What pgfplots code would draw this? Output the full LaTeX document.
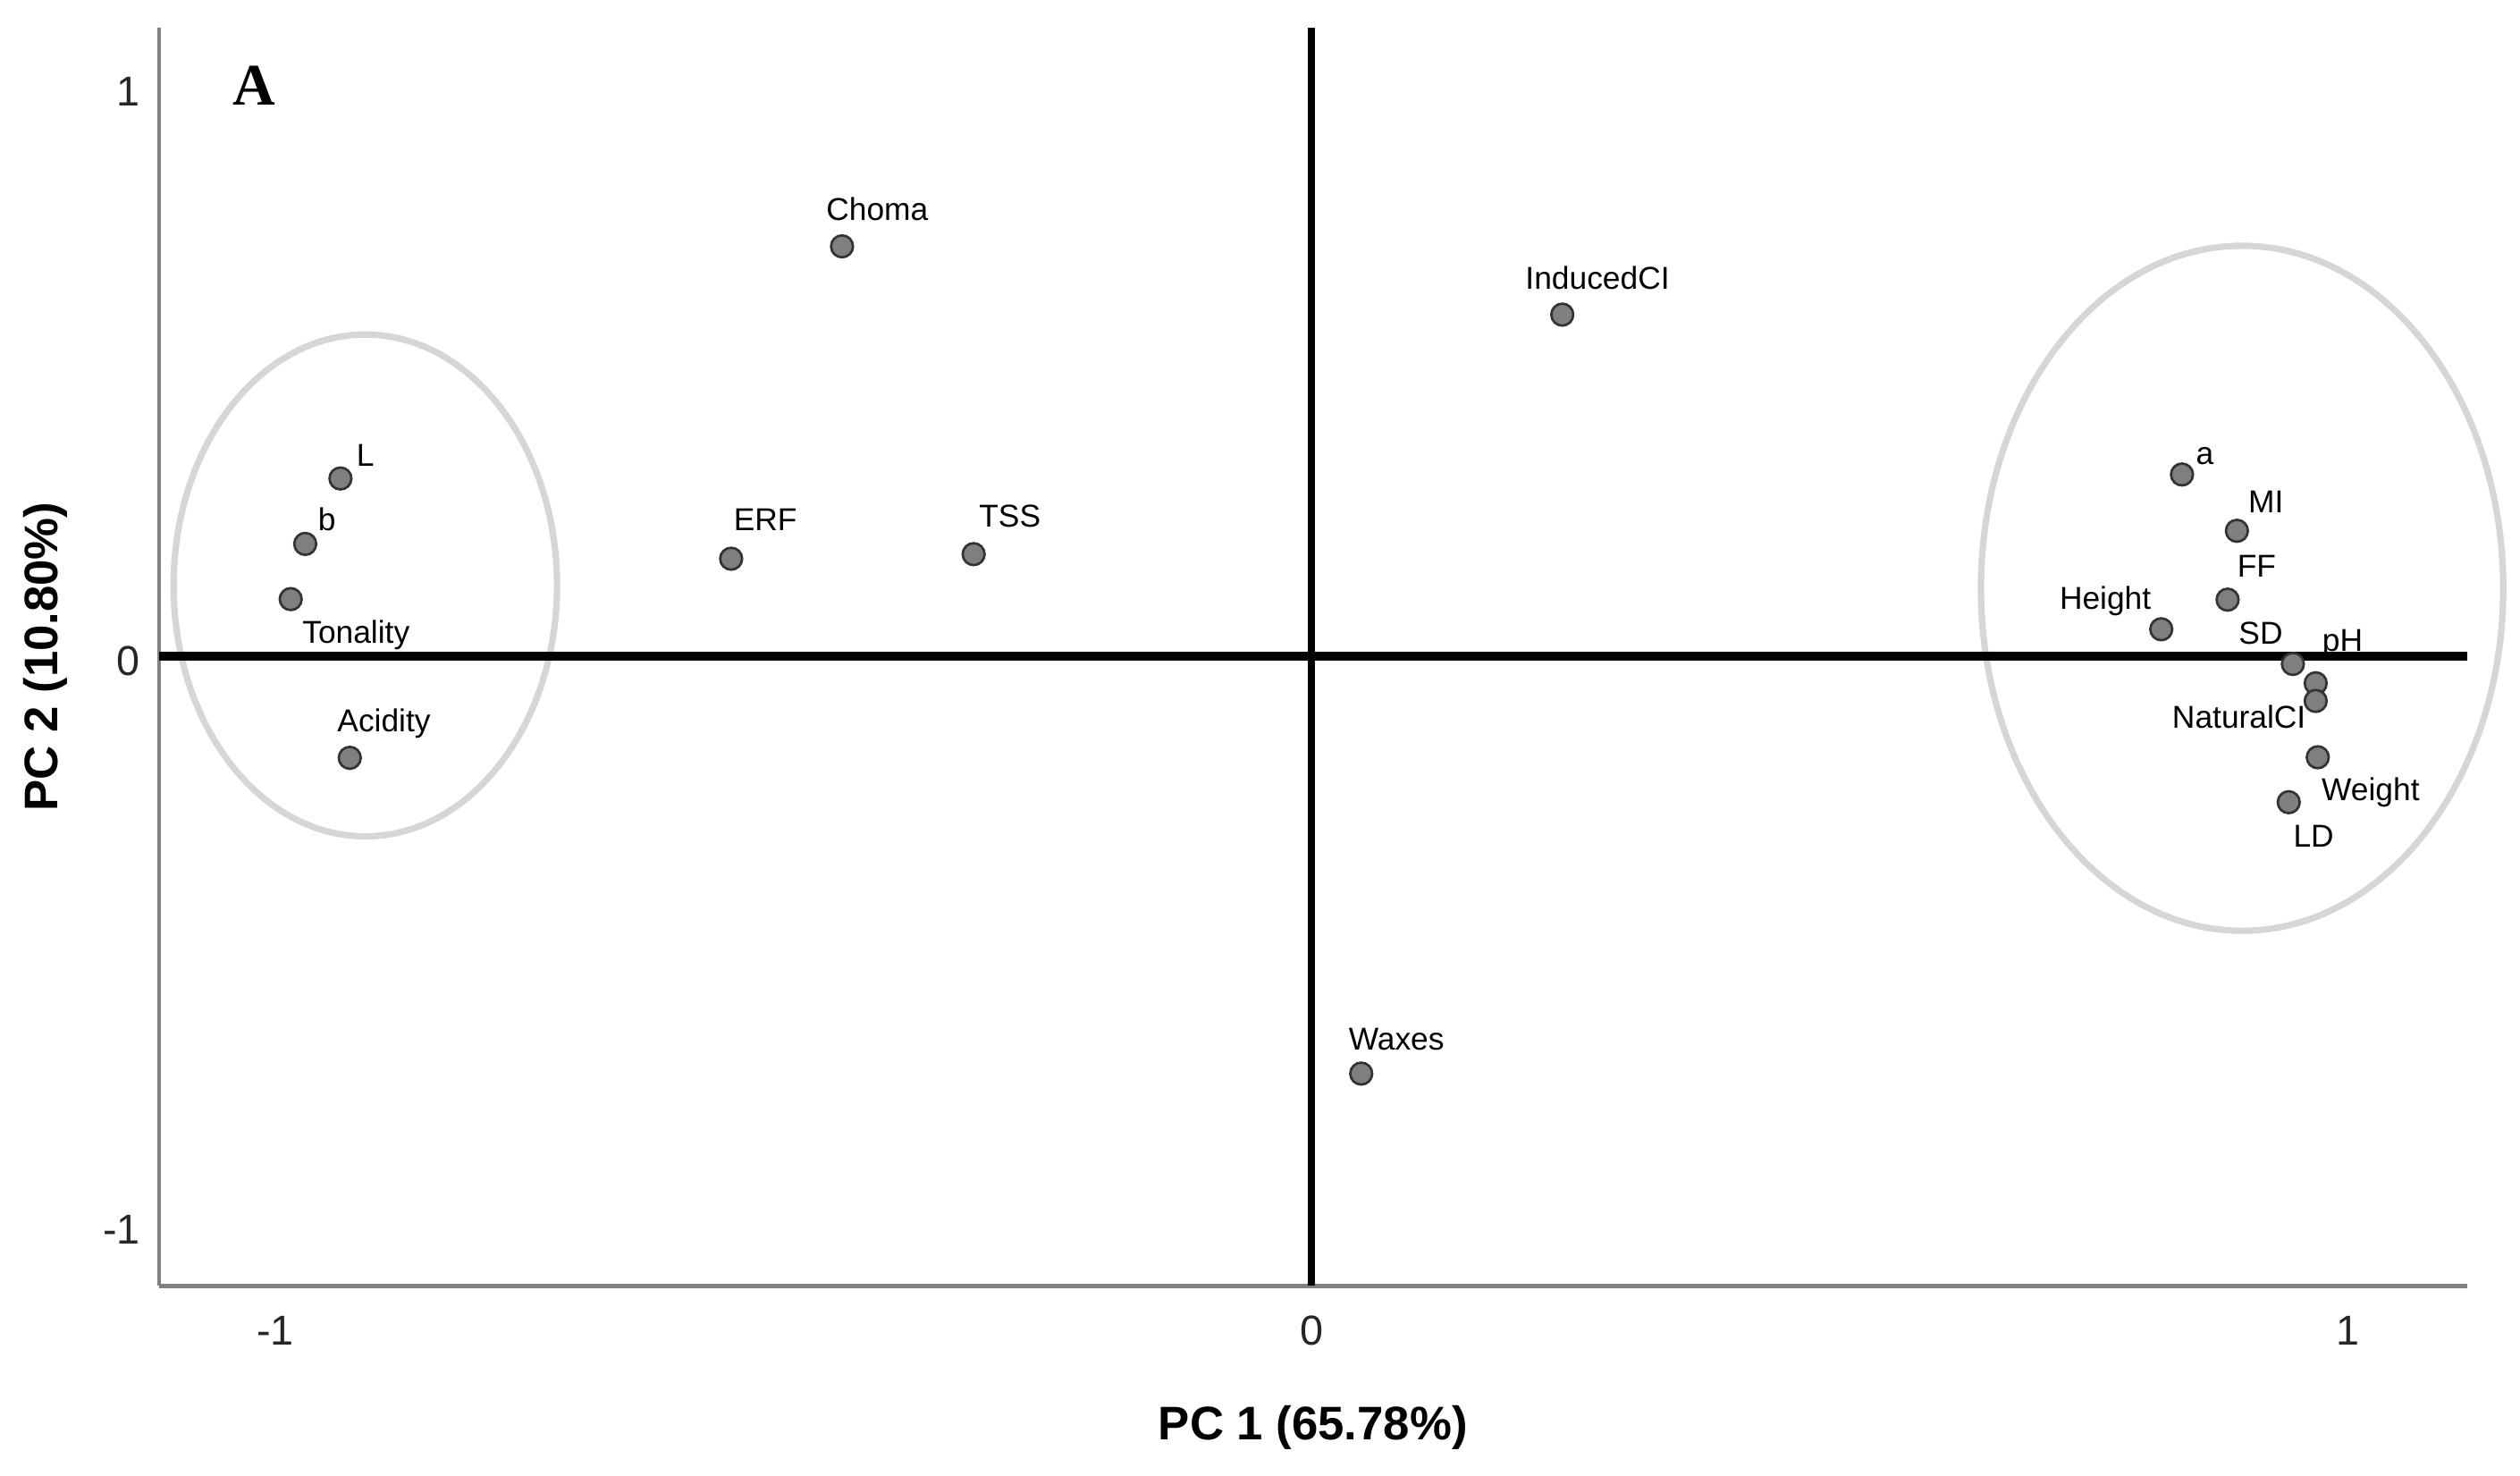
\documentclass[border=0pt]{standalone}
\usepackage{fontspec}
\setmainfont{Liberation Sans}
\newfontfamily\timesfont{Liberation Serif}
\usepackage{pgfplots}
\pgfplotsset{compat=1.18}
\definecolor{ringgray}{HTML}{D6D6D6}
\definecolor{dotgray}{HTML}{7F7F7F}
\tikzset{lbl/.style={font=\fontsize{5.9}{7}\selectfont, anchor=center,
  inner sep=0pt, text height=0.72em, text depth=0pt, yshift=1.5pt}}

\begin{document}
\begin{tikzpicture}
  \begin{axis}[
    scale only axis,
    width=430.8pt, height=234.9pt,
    xmin=-1.112, xmax=1.115,
    ymin=-1.107, ymax=1.105,
    axis x line*=bottom, axis y line*=left,
    x axis line style={draw=black!50, line width=0.9pt, -},
    y axis line style={draw=black!50, line width=0.6pt, -},
    xtick={-1,0,1}, ytick={-1,0,1},
    major tick length=0pt,
    /pgf/number format/assume math mode=true,
    ticklabel style={font=\fontsize{7.8}{9}\selectfont, text=black!85},
    xticklabel style={anchor=center, yshift=-8.4pt},
    yticklabel style={yshift=-0.9pt},
    xlabel={PC 1 (65.78\%)},
    ylabel={PC 2 (10.80\%)},
    label style={font=\bfseries\fontsize{8.8}{10}\selectfont},
    xlabel style={at={(axis description cs:0.5,-0.1126)}, anchor=center},
    ylabel style={at={(axis description cs:-0.0494,0.5)}, anchor=center},
    clip=false,
  ]
    % grouping rings
    \draw[ringgray, line width=1.2pt] (axis cs:-0.913,0.124) ellipse [x radius=0.185, y radius=0.441];
    \draw[ringgray, line width=1.2pt] (axis cs:0.898,0.119) ellipse [x radius=0.252, y radius=0.602];

    % zero lines
    \draw[black, line width=1.6pt] (axis cs:-1.112,0) -- (axis cs:1.115,0);
    \draw[black, line width=1.3pt] (axis cs:0,-1.107) -- (axis cs:0,1.105);

    \addplot[only marks, mark=*, mark size=2.05pt,
      mark options={fill=dotgray, draw=black!80, line width=0.45pt}]
      coordinates {
      (-0.453,0.720)  % Choma
      (0.242,0.600)   % InducedCI
      (-0.937,0.312)  % L
      (-0.971,0.197)  % b
      (-0.985,0.100)  % Tonality
      (-0.928,-0.179) % Acidity
      (-0.560,0.171)  % ERF
      (-0.326,0.179)  % TSS
      (0.048,-0.734)  % Waxes
      (0.840,0.319)   % a
      (0.893,0.220)   % MI
      (0.884,0.099)   % FF
      (0.820,0.047)   % Height
      (0.947,-0.014)
      (0.969,-0.048)
      (0.969,-0.079)
      (0.971,-0.178)
      (0.943,-0.257)
    };

    \node[lbl] at (axis cs:-0.419,0.785) {Choma};
    \node[lbl] at (axis cs:0.276,0.664) {InducedCI};
    \node[lbl] at (axis cs:-0.913,0.353) {L};
    \node[lbl] at (axis cs:-0.950,0.240) {b};
    \node[lbl] at (axis cs:-0.922,0.042) {Tonality};
    \node[lbl] at (axis cs:-0.895,-0.113) {Acidity};
    \node[lbl] at (axis cs:-0.527,0.240) {ERF};
    \node[lbl] at (axis cs:-0.291,0.246) {TSS};
    \node[lbl] at (axis cs:0.082,-0.672) {Waxes};
    \node[lbl] at (axis cs:0.862,0.356) {a};
    \node[lbl] at (axis cs:0.921,0.271) {MI};
    \node[lbl] at (axis cs:0.912,0.158) {FF};
    \node[lbl] at (axis cs:0.766,0.102) {Height};
    \node[lbl] at (axis cs:0.916,0.040) {SD};
    \node[lbl] at (axis cs:0.995,0.028) {pH};
    \node[lbl] at (axis cs:0.895,-0.107) {NaturalCI};
    \node[lbl] at (axis cs:1.022,-0.234) {Weight};
    \node[lbl] at (axis cs:0.967,-0.316) {LD};

    \node[font=\timesfont\bfseries\fontsize{11}{12}\selectfont, anchor=center, inner sep=0pt]
      at (axis cs:-1.020,1.003) {A};
  \end{axis}
  \path ([xshift=-29.7pt,yshift=-35.4pt]current axis.south west)
    rectangle ([xshift=9.9pt,yshift=5.1pt]current axis.north east);
\end{tikzpicture}
\end{document}
